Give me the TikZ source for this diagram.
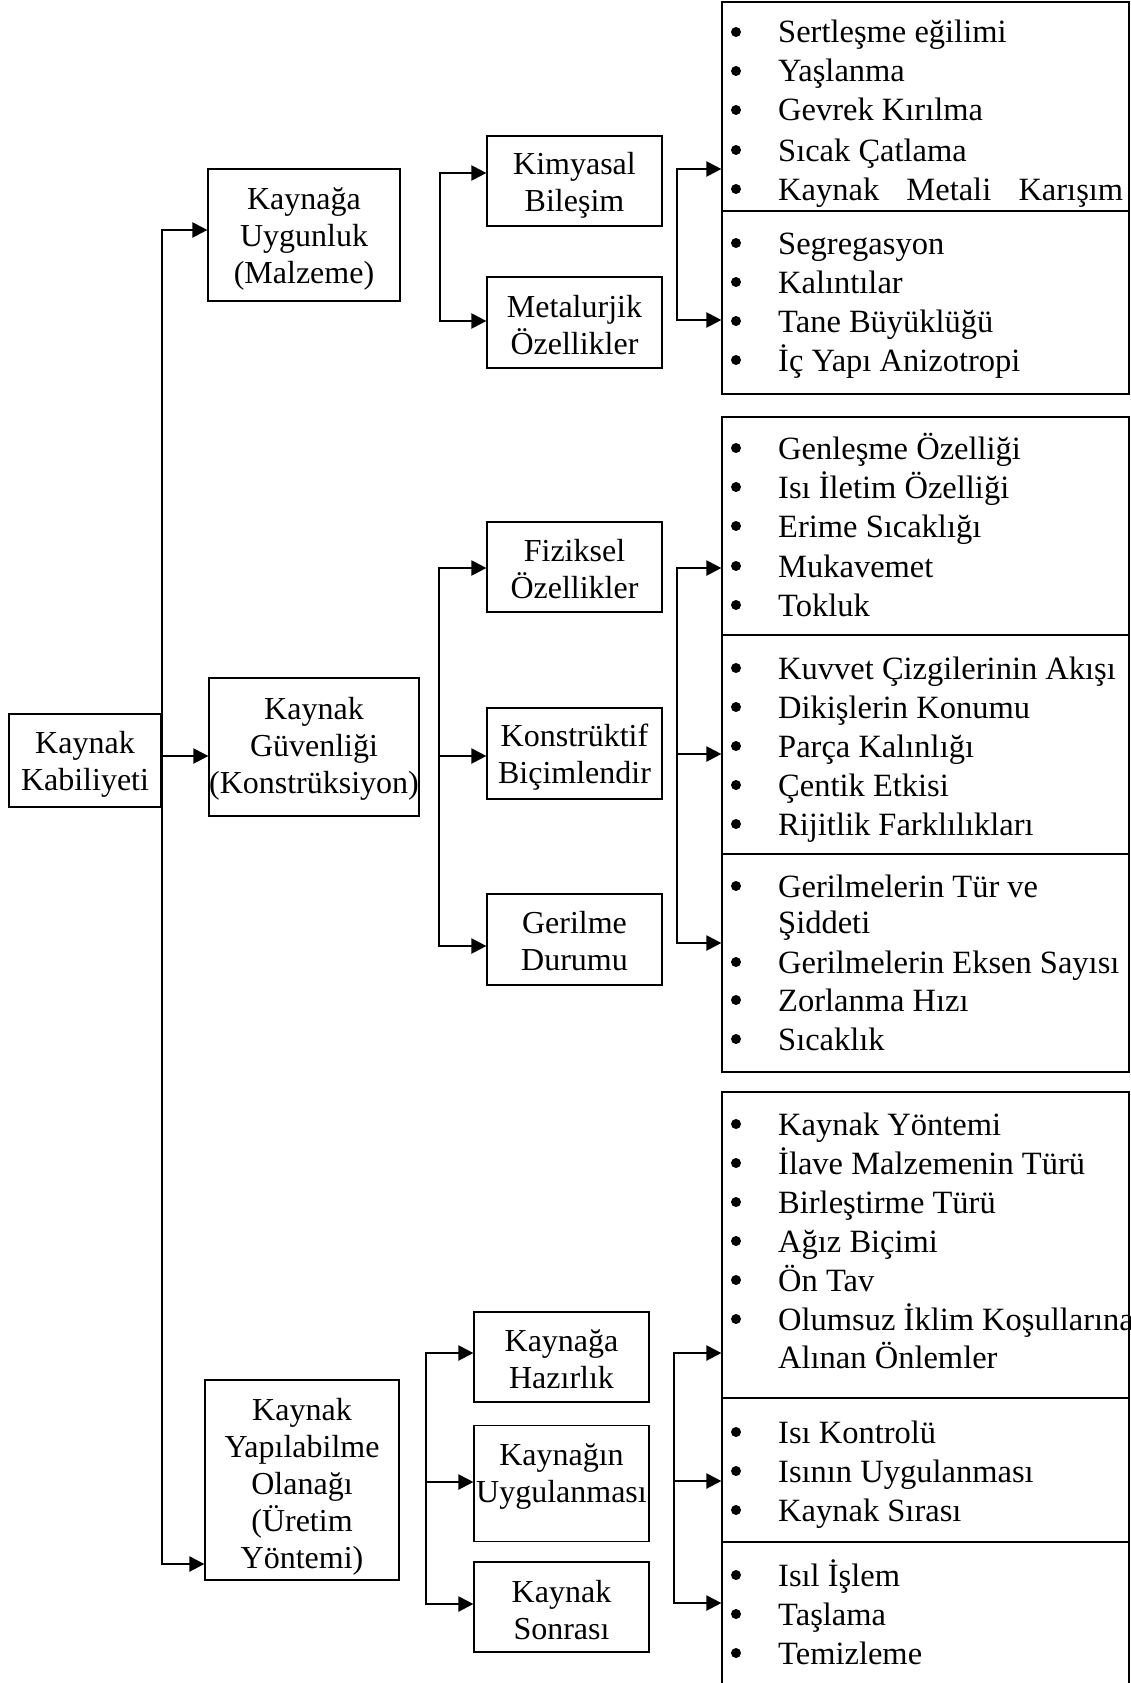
\documentclass[tikz,border=0pt]{standalone}
\usepackage{fontspec}
\setmainfont{Liberation Serif}
\usetikzlibrary{arrows.meta}
\begin{document}
\begin{tikzpicture}[x=1pt,y=-1pt,
  box/.style={draw, line width=1.2pt, inner sep=0pt},
  boxtext/.style={inner sep=0pt, align=center, font=\fontsize{32}{37}\selectfont},
  listbox/.style={draw, line width=1.2pt, inner sep=0pt, minimum width=407pt},
  link/.style={line width=2.2pt},
  tip/.tip={Triangle[length=15pt,width=15pt]},
  arr/.style={link, -tip},
  arr2/.style={link, tip-tip},
  itm/.style={anchor=base west, inner sep=0pt, font=\fontsize{32.5}{39}\selectfont},
  bul/.style={circle, fill, inner sep=0pt, minimum size=10pt}]
\useasboundingbox (0,0) rectangle (1130,1683);

% a framed box with its centred caption; #1 moves the caption down
\newcommand\cbox[7][0]{%
  \node[box, minimum width=#5pt, minimum height=#6pt] (#2) at (#3,#4) {};
  \node[boxtext] (#2t) at ([yshift=-#1pt]#2.center) {#7};}

% ---------- root and first level ----------
\cbox[4]{root}{85}{760.5}{152}{93}{Kaynak\\Kabiliyeti}
\cbox[4]{u1}{304}{235}{192}{132}{Kaynağa\\Uygunluk\\(Malzeme)}
\cbox[2]{u2}{314}{747}{210}{138}{Kaynak\\Güvenliği\\(Konstrüksiyon)}
\cbox[7]{u3}{302}{1480}{194}{200}{Kaynak\\Yapılabilme\\Olanağı\\(Üretim\\Yöntemi)}

\coordinate (t1) at (162,230);
\coordinate (t2) at (162,756);
\coordinate (t3) at (162,1564);
\draw[arr2] (t1 -| u1.west) -- (t1) -- (t3) -- (t3 -| u3.west);
\draw[arr] (t2) -- (t2 -| u2.west);

% ---------- second level ----------
\cbox[4]{k1}{574.5}{181}{175}{90}{Kimyasal\\Bileşim}
\cbox[3]{k2}{574.5}{322.5}{175}{91}{Metalurjik\\Özellikler}
\cbox[2]{f1}{574.5}{567}{175}{90}{Fiziksel\\Özellikler}
\cbox[4]{f2}{574.5}{753.5}{175}{91}{Konstrüktif\\Biçimlendir}
\cbox[2]{f3}{574.5}{939.5}{175}{91}{Gerilme\\Durumu}
\cbox[2]{p1}{561.5}{1357}{175}{90}{Kaynağa\\Hazırlık}
\cbox[-6.5]{p2}{561.5}{1483.5}{175}{116}{Kaynağın\\Uygulanması}
\cbox[3]{p3}{561.5}{1607}{175}{90}{Kaynak\\Sonrası}

% left brackets
\coordinate (a1) at (440,173);  \coordinate (a2) at (440,321);
\draw[arr2] (a1 -| k1.west) -- (a1) -- (a2) -- (a2 -| k2.west);

\coordinate (b1) at (439,568);  \coordinate (b2) at (439,756);  \coordinate (b3) at (439,946);
\draw[arr2] (b1 -| f1.west) -- (b1) -- (b3) -- (b3 -| f3.west);
\draw[arr] (b2) -- (b2 -| f2.west);

\coordinate (c1) at (426,1353); \coordinate (c2) at (426,1482); \coordinate (c3) at (426,1604);
\draw[arr2] (c1 -| p1.west) -- (c1) -- (c3) -- (c3 -| p3.west);
\draw[arr] (c2) -- (c2 -| p2.west);

% ---------- list boxes ----------
\node[listbox, minimum height=209pt] (r1) at (925.5,106.5) {};
\node[listbox, minimum height=183pt] (r2) at (925.5,302.5) {};
\node[listbox, minimum height=218pt] (r3) at (925.5,526) {};
\node[listbox, minimum height=219pt] (r4) at (925.5,744.5) {};
\node[listbox, minimum height=218pt] (r5) at (925.5,963) {};
\node[listbox, minimum height=306pt] (r6) at (925.5,1245) {};
\node[listbox, minimum height=144pt] (r7) at (925.5,1470) {};
\node[listbox, minimum height=158pt] (r8) at (925.5,1621) {};

% right brackets
\coordinate (d1) at (677,169);  \coordinate (d2) at (677,320);
\draw[arr2] (d1 -| r1.west) -- (d1) -- (d2) -- (d2 -| r2.west);

\coordinate (e1) at (677,568);  \coordinate (e2) at (677,754);  \coordinate (e3) at (677,943);
\draw[arr2] (e1 -| r3.west) -- (e1) -- (e3) -- (e3 -| r5.west);
\draw[arr] (e2) -- (e2 -| r4.west);

\coordinate (g1) at (674,1353); \coordinate (g2) at (674,1481); \coordinate (g3) at (674,1603);
\draw[arr2] (g1 -| r6.west) -- (g1) -- (g3) -- (g3 -| r8.west);
\draw[arr] (g2) -- (g2 -| r7.west);

% ---------- list entries ----------
\newcommand\entry[3]{%
  \node[bul] (#1b) at (736,#2-11) {};
  \node[itm] (#1) at (778,#2) {#3};}
\newcommand\contline[3]{\node[itm] (#1) at (778,#2) {#3};}

\entry{s1}{43}{Sertleşme eğilimi}
\entry{s2}{82}{Yaşlanma}
\entry{s3}{121}{Gevrek Kırılma}
\entry{s4}{161}{Sıcak Çatlama}
\entry{s5}{200}{\makebox[345pt][s]{Kaynak Metali Karışım}}

\entry{m1}{254}{Segregasyon}
\entry{m2}{293}{Kalıntılar}
\entry{m3}{332}{Tane Büyüklüğü}
\entry{m4}{371}{İç Yapı Anizotropi}

\entry{f1l}{459}{Genleşme Özelliği}
\entry{f2l}{498}{Isı İletim Özelliği}
\entry{f3l}{537}{Erime Sıcaklığı}
\entry{f4l}{577}{Mukavemet}
\entry{f5l}{616}{Tokluk}

\entry{k1l}{679}{Kuvvet Çizgilerinin Akışı}
\entry{k2l}{718}{Dikişlerin Konumu}
\entry{k3l}{757}{Parça Kalınlığı}
\entry{k4l}{796}{Çentik Etkisi}
\entry{k5l}{835}{Rijitlik Farklılıkları}

\entry{g1l}{897}{Gerilmelerin Tür ve}
\contline{g1c}{933}{Şiddeti}
\entry{g2l}{973}{Gerilmelerin Eksen Sayısı}
\entry{g3l}{1011}{Zorlanma Hızı}
\entry{g4l}{1050}{Sıcaklık}

\entry{h1l}{1135}{Kaynak Yöntemi}
\entry{h2l}{1174}{İlave Malzemenin Türü}
\entry{h3l}{1213}{Birleştirme Türü}
\entry{h4l}{1252}{Ağız Biçimi}
\entry{h5l}{1291}{Ön Tav}
\entry{h6l}{1330}{Olumsuz İklim Koşullarına}
\contline{h6c}{1368}{Alınan Önlemler}

\entry{i1l}{1443}{Isı Kontrolü}
\entry{i2l}{1482}{Isının Uygulanması}
\entry{i3l}{1521}{Kaynak Sırası}

\entry{j1l}{1586}{Isıl İşlem}
\entry{j2l}{1625}{Taşlama}
\entry{j3l}{1664}{Temizleme}
\end{tikzpicture}
\end{document}
